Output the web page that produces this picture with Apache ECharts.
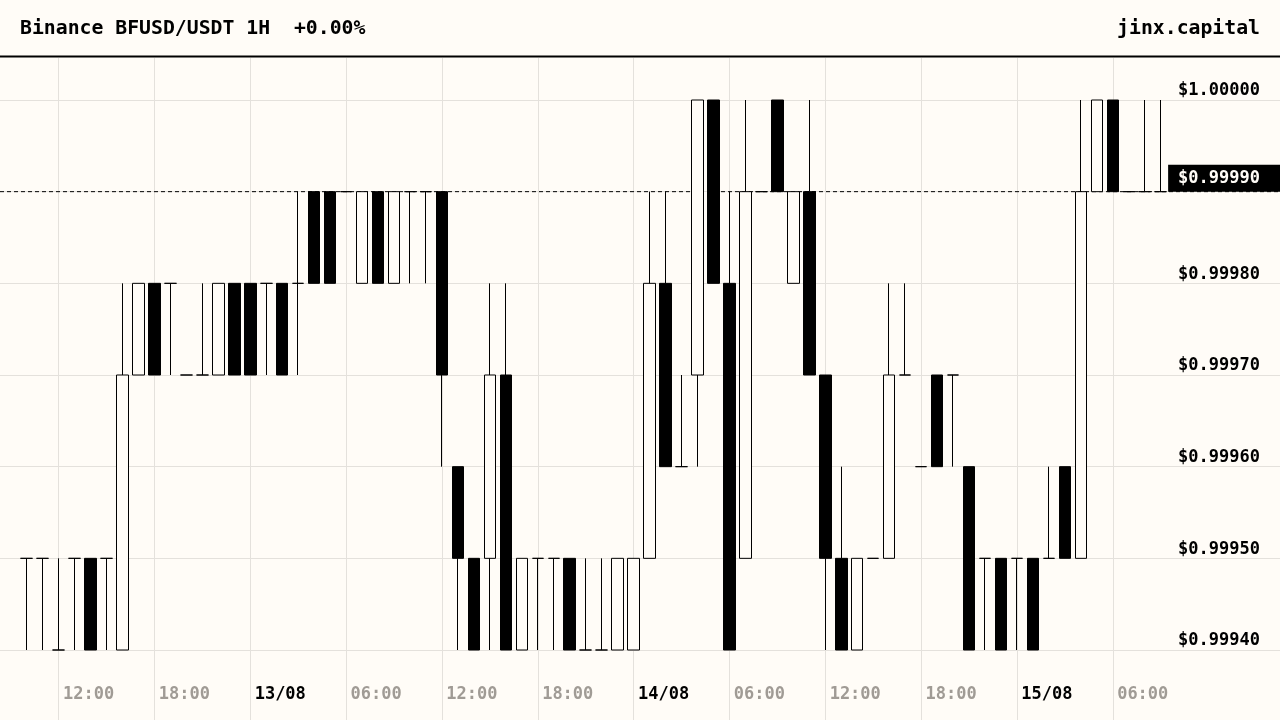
<!DOCTYPE html>
<html>
<head>
<meta charset="utf-8">
<script src="https://cdn.jsdelivr.net/npm/echarts@6/dist/echarts.min.js"></script>
<style>
html,body{margin:0;padding:0;background:#fffcf7;}
#c{width:1280px;height:720px;}
</style>
</head>
<body>
<div id="c"></div>
<script>
// ---- data ----
const hours = [
  '12/08 08:00','12/08 09:00','12/08 10:00','12/08 11:00','12/08 12:00','12/08 13:00','12/08 14:00','12/08 15:00',
  '12/08 16:00','12/08 17:00','12/08 18:00','12/08 19:00','12/08 20:00','12/08 21:00','12/08 22:00','12/08 23:00',
  '13/08 00:00','13/08 01:00','13/08 02:00','13/08 03:00','13/08 04:00','13/08 05:00','13/08 06:00','13/08 07:00',
  '13/08 08:00','13/08 09:00','13/08 10:00','13/08 11:00','13/08 12:00','13/08 13:00','13/08 14:00','13/08 15:00',
  '13/08 16:00','13/08 17:00','13/08 18:00','13/08 19:00','13/08 20:00','13/08 21:00','13/08 22:00','13/08 23:00',
  '14/08 00:00','14/08 01:00','14/08 02:00','14/08 03:00','14/08 04:00','14/08 05:00','14/08 06:00','14/08 07:00',
  '14/08 08:00','14/08 09:00','14/08 10:00','14/08 11:00','14/08 12:00','14/08 13:00','14/08 14:00','14/08 15:00',
  '14/08 16:00','14/08 17:00','14/08 18:00','14/08 19:00','14/08 20:00','14/08 21:00','14/08 22:00','14/08 23:00',
  '15/08 00:00','15/08 01:00','15/08 02:00','15/08 03:00','15/08 04:00','15/08 05:00','15/08 06:00','15/08 07:00'
];
const opens = [
  0.9995,0.9995,0.9994,0.9995,0.9995,0.9995,0.9994,0.9997,
  0.9998,0.9998,0.9997,0.9997,0.9997,0.9998,0.9998,0.9998,
  0.9998,0.9998,0.9999,0.9999,0.9999,0.9998,0.9999,0.9998,
  0.9999,0.9999,0.9999,0.9996,0.9995,0.9995,0.9997,0.9994,
  0.9995,0.9995,0.9995,0.9994,0.9994,0.9994,0.9994,0.9995,
  0.9998,0.9996,0.9997,1.0000,0.9998,0.9995,0.9999,1.0000,
  0.9998,0.9999,0.9997,0.9995,0.9994,0.9995,0.9995,0.9997,
  0.9996,0.9997,0.9997,0.9996,0.9995,0.9995,0.9995,0.9995,
  0.9995,0.9996,0.9995,0.9999,1.0000,0.9999,0.9999,0.9999
];
const closes = [
  0.9995,0.9995,0.9994,0.9995,0.9994,0.9995,0.9997,0.9998,
  0.9997,0.9998,0.9997,0.9997,0.9998,0.9997,0.9997,0.9998,
  0.9997,0.9998,0.9998,0.9998,0.9999,0.9999,0.9998,0.9999,
  0.9999,0.9999,0.9997,0.9995,0.9994,0.9997,0.9994,0.9995,
  0.9995,0.9995,0.9994,0.9994,0.9994,0.9995,0.9995,0.9998,
  0.9996,0.9996,1.0000,0.9998,0.9994,0.9999,0.9999,0.9999,
  0.9999,0.9997,0.9995,0.9994,0.9995,0.9995,0.9997,0.9997,
  0.9996,0.9996,0.9997,0.9994,0.9995,0.9994,0.9995,0.9994,
  0.9995,0.9995,0.9999,1.0000,0.9999,0.9999,0.9999,0.9999
];
const lows = [
  0.9994,0.9994,0.9994,0.9994,0.9994,0.9994,0.9994,0.9997,
  0.9997,0.9997,0.9997,0.9997,0.9997,0.9997,0.9997,0.9997,
  0.9997,0.9997,0.9998,0.9998,0.9999,0.9998,0.9998,0.9998,
  0.9998,0.9998,0.9996,0.9994,0.9994,0.9994,0.9994,0.9994,
  0.9994,0.9994,0.9994,0.9994,0.9994,0.9994,0.9994,0.9995,
  0.9996,0.9996,0.9996,0.9998,0.9994,0.9995,0.9999,0.9999,
  0.9998,0.9997,0.9994,0.9994,0.9994,0.9995,0.9995,0.9997,
  0.9996,0.9996,0.9996,0.9994,0.9994,0.9994,0.9994,0.9994,
  0.9995,0.9995,0.9995,0.9999,0.9999,0.9999,0.9999,0.9999
];
const highs = [
  0.9995,0.9995,0.9995,0.9995,0.9995,0.9995,0.9998,0.9998,
  0.9998,0.9998,0.9997,0.9998,0.9998,0.9998,0.9998,0.9998,
  0.9998,0.9999,0.9999,0.9999,0.9999,0.9999,0.9999,0.9999,
  0.9999,0.9999,0.9999,0.9996,0.9995,0.9998,0.9998,0.9995,
  0.9995,0.9995,0.9995,0.9995,0.9995,0.9995,0.9995,0.9999,
  0.9999,0.9997,1.0000,1.0000,0.9999,1.0000,0.9999,1.0000,
  0.9999,1.0000,0.9997,0.9996,0.9995,0.9995,0.9998,0.9998,
  0.9996,0.9997,0.9997,0.9996,0.9995,0.9995,0.9995,0.9995,
  0.9996,0.9996,1.0000,1.0000,1.0000,0.9999,1.0000,1.0000
];
const yMin = 0.9994, yMax = 1.0000, yStep = 0.0001;
const titleText = 'Binance BFUSD/USDT 1H  +0.00%';
const brandText = 'jinx.capital';

// ---- style / layout ----
const BG = '#fffcf7';
const GRID = '#e4e1dc';
const GRAY = '#a09b95';
const FONT = 'DejaVu Sans Mono';
const W = 1280;
const FIRST_PX = 26.7, LAST_PX = 1160.7;
const n = hours.length;
const step = (LAST_PX - FIRST_PX) / (n - 1);
const xMin = -FIRST_PX / step;
const xMax = (W - FIRST_PX) / step;
const lastClose = closes[n - 1];

const candles = hours.map((h, i) => [i, opens[i], closes[i], lows[i], highs[i]]);

const chart = echarts.init(document.getElementById('c'), null, {renderer: 'canvas'});
chart.setOption({
  backgroundColor: BG,
  animation: false,
  title: [
    {text: titleText, left: 20, top: 19, padding: 0,
     textStyle: {fontFamily: FONT, fontWeight: 'bold', fontSize: 19.8, lineHeight: 20, color: '#000'}},
    {text: brandText, right: 20, top: 19, padding: 0,
     textStyle: {fontFamily: FONT, fontWeight: 'bold', fontSize: 19.8, lineHeight: 20, color: '#000'}}
  ],
  graphic: [
    {type: 'line', shape: {x1: 0, y1: 56.5, x2: W, y2: 56.5}, style: {stroke: '#000', lineWidth: 2}, z: 10}
  ],
  grid: [
    {left: 0, right: 0, top: 100, bottom: 70, containLabel: false, outerBoundsMode: 'none'},
    {left: FIRST_PX, right: W - LAST_PX, top: 58, bottom: 0, containLabel: false, outerBoundsMode: 'none'}
  ],
  xAxis: [
    {type: 'value', gridIndex: 0, min: xMin, max: xMax, show: false},
    {type: 'category', gridIndex: 1, data: hours, boundaryGap: false,
     axisLine: {show: false}, axisTick: {show: false},
     splitLine: {show: true, interval: (i) => i % 6 === 2, lineStyle: {color: GRID, width: 1}},
     axisLabel: {
       inside: true, margin: 17, interval: (i) => i % 6 === 4,
       fontFamily: FONT, fontWeight: 'bold', fontSize: 17,
       formatter: (v) => {
         const [d, t] = v.split(' ');
         return t === '00:00' ? '{d|' + d + '}' : '{t|' + t + '}';
       },
       rich: {
         d: {fontFamily: FONT, fontWeight: 'bold', fontSize: 17, color: '#000', padding: [0, 4, 0, 0]},
         t: {fontFamily: FONT, fontWeight: 'bold', fontSize: 17, color: GRAY, padding: [0, 4, 0, 0]}
       }
     }}
  ],
  yAxis: [
    {type: 'value', gridIndex: 0, position: 'right', min: yMin, max: yMax, interval: yStep,
     axisLine: {show: false}, axisTick: {show: false},
     splitLine: {show: true, lineStyle: {color: GRID, width: 1}},
     axisLabel: {
       inside: true, margin: 0, verticalAlign: 'bottom',
       formatter: (v) => {
         const s = '$' + v.toFixed(5);
         return Math.abs(v - lastClose) < 1e-9 ? '{hl|' + s + '}' : '{n|' + s + '}';
       },
       rich: {
         n: {fontFamily: FONT, fontWeight: 'bold', fontSize: 17, lineHeight: 18, color: '#000', padding: [0, 20, 0, 0]},
         hl: {fontFamily: FONT, fontWeight: 'bold', fontSize: 17, lineHeight: 27, color: BG,
              backgroundColor: '#000', padding: [5, 20, 5, 10]}
       }
     }},
    {type: 'value', gridIndex: 1, min: 0, max: 1, show: false}
  ],
  series: [
    {
      type: 'candlestick',
      xAxisIndex: 0, yAxisIndex: 0,
      data: candles,
      barWidth: 12,
      clip: false,
      itemStyle: {
        color: BG, color0: '#000',
        borderColor: '#000', borderColor0: '#000', borderColorDoji: '#000',
        borderWidth: 1
      }
    },
    {
      type: 'line',
      xAxisIndex: 0, yAxisIndex: 0,
      data: [[xMin, lastClose], [xMax, lastClose]],
      symbol: 'none', silent: true, z: 1,
      lineStyle: {color: '#000', type: [4, 3], width: 1}
    }
  ]
});
</script>
</body>
</html>
